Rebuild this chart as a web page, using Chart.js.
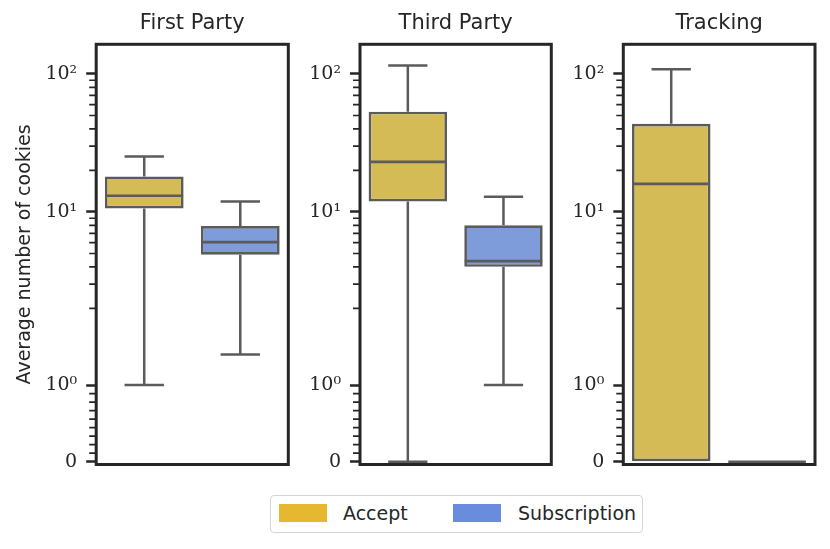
<!DOCTYPE html>
<html>
<head>
<meta charset="utf-8">
<script src="https://cdn.jsdelivr.net/npm/chart.js@4.4.0/dist/chart.umd.min.js"></script>
<style>
    body { margin: 0; background: #fff; width: 830px; height: 549px; position: relative; overflow: hidden; }
    .panel { position: absolute; top: 0; }
    #legend {
        position: absolute; left: 270px; top: 495px; width: 371px; height: 36px;
        border: 1.3px solid #d4d4d4; border-radius: 4px; background: #fff;
        font-family: 'DejaVu Sans', sans-serif; font-size: 19px; color: #262626;
    }
    #legend .sw { position: absolute; top: 8px; width: 48px; height: 18px; }
    #legend .tx { position: absolute; top: 5px; line-height: 24px; }
</style>
</head>
<body>
<div class="panel" style="left:0px"><canvas id="p0" width="300" height="549"></canvas></div>
<div class="panel" style="left:300px"><canvas id="p1" width="264" height="549"></canvas></div>
<div class="panel" style="left:563px"><canvas id="p2" width="267" height="549"></canvas></div>
<div id="legend">
    <div class="sw" style="left:8px;background:#e6b730"></div>
    <div class="tx" style="left:72px">Accept</div>
    <div class="sw" style="left:182px;background:#6a8cdd"></div>
    <div class="tx" style="left:247px">Subscription</div>
</div>
<script>
// panels and groups
const categories = ['First Party', 'Third Party', 'Tracking'];
const groups = ['Accept', 'Subscription'];

// box stats (cookies per site)
const acceptLow  = [1.0, 0, 0];
const acceptQ1   = [10.6, 11.9, 0];
const acceptMed  = [13.1, 23.1, 16.0];
const acceptQ3   = [18.1, 53.3, 43.5];
const acceptHigh = [25.2, 115, 108];

const subLow  = [1.4, 1.0, 0];
const subQ1   = [4.9, 4.0, 0];
const subMed  = [6.05, 4.4, 0];
const subQ3   = [7.9, 8.0, 0];
const subHigh = [11.9, 12.9, 0];

// y axis ticks
const majorTicks = [0, 1, 10, 100];
const majorLabels = ['0', '10\u2070', '10\u00b9', '10\u00b2'];
const minorTicks = [1/9, 2/9, 3/9, 4/9, 5/9, 6/9, 7/9, 8/9,
                    2, 3, 4, 5, 6, 7, 8, 9,
                    20, 30, 40, 50, 60, 70, 80, 90];

const boxFill = { Accept: '#d5bb55', Subscription: '#7e9bda' };
const lineGray = '#5b5b5b';
const dark = '#262626';

// symlog, linthresh 2, linscale 1 (matplotlib style)
const LINTHRESH = 2;
const LINSCALE_ADJ = 1 / (1 - 0.1);
function symlog(v) {
    if (v <= LINTHRESH) return v * LINSCALE_ADJ;
    return LINTHRESH * (LINSCALE_ADJ + Math.log10(v / LINTHRESH));
}

// -----------------------------
// whiskers + medians
// -----------------------------
const boxPlugin = {
    id: 'boxWhiskers',
    afterDatasetsDraw(chart) {
        const ctx = chart.ctx;
        const y = chart.scales.y;
        ctx.save();
        ctx.strokeStyle = lineGray;
        ctx.lineCap = 'butt';
        chart.data.datasets.forEach((ds, i) => {
            const bar = chart.getDatasetMeta(i).data[0];
            const {x, width} = bar.getProps(['x', 'width'], true);
            const s = ds.stats;
            const cap = width / 4;
            ctx.lineWidth = 2.5;
            ctx.beginPath();
            if (s.high > s.q3) {
                ctx.moveTo(x, y.getPixelForValue(symlog(s.q3)));
                ctx.lineTo(x, y.getPixelForValue(symlog(s.high)));
                ctx.moveTo(x - cap, y.getPixelForValue(symlog(s.high)));
                ctx.lineTo(x + cap, y.getPixelForValue(symlog(s.high)));
            }
            if (s.low < s.q1) {
                ctx.moveTo(x, y.getPixelForValue(symlog(s.q1)));
                ctx.lineTo(x, y.getPixelForValue(symlog(s.low)));
                ctx.moveTo(x - cap, y.getPixelForValue(symlog(s.low)));
                ctx.lineTo(x + cap, y.getPixelForValue(symlog(s.low)));
            }
            ctx.stroke();
            ctx.lineWidth = 2.7;
            ctx.beginPath();
            const ym = y.getPixelForValue(symlog(s.med));
            ctx.moveTo(x - width / 2 + 0.5, ym);
            ctx.lineTo(x + width / 2 - 0.5, ym);
            ctx.stroke();
        });
        ctx.restore();
    }
};

// -----------------------------
// frame + minor ticks
// -----------------------------
const framePlugin = {
    id: 'frame',
    afterDraw(chart) {
        const ctx = chart.ctx;
        const a = chart.chartArea;
        const y = chart.scales.y;
        ctx.save();
        ctx.strokeStyle = dark;
        ctx.lineWidth = 1.7;
        ctx.beginPath();
        minorTicks.forEach(v => {
            const py = y.getPixelForValue(symlog(v));
            ctx.moveTo(a.left - 7, py);
            ctx.lineTo(a.left, py);
        });
        ctx.stroke();
        ctx.lineWidth = 3;
        ctx.strokeRect(a.left, a.top, a.right - a.left, a.bottom - a.top);
        ctx.restore();
    }
};

const panelLayout = [
    {axisW: 96.2, padRight: 11.7},
    {axisW: 60, padRight: 12.7},
    {axisW: 60.3, padRight: 15}
];

categories.forEach((cat, p) => {
    const datasets = [
        {
            label: groups[0],
            data: [[symlog(acceptQ1[p]), symlog(acceptQ3[p])]],
            stats: {low: acceptLow[p], q1: acceptQ1[p], med: acceptMed[p], q3: acceptQ3[p], high: acceptHigh[p]},
            backgroundColor: boxFill.Accept
        },
        {
            label: groups[1],
            data: [[symlog(subQ1[p]), symlog(subQ3[p])]],
            stats: {low: subLow[p], q1: subQ1[p], med: subMed[p], q3: subQ3[p], high: subHigh[p]},
            backgroundColor: boxFill.Subscription
        }
    ].map(ds => Object.assign(ds, {
        borderColor: lineGray,
        borderWidth: 2.7,
        borderSkipped: false,
        barPercentage: 0.82,
        categoryPercentage: 1
    }));

    new Chart(document.getElementById('p' + p), {
        type: 'bar',
        data: {labels: [cat], datasets: datasets},
        options: {
            responsive: false,
            animation: false,
            layout: {padding: {left: 0, right: panelLayout[p].padRight, top: 0, bottom: 84.5}},
            plugins: {
                legend: {display: false},
                tooltip: {enabled: false},
                title: {
                    display: true,
                    fullSize: false,
                    align: 'center',
                    text: cat,
                    color: dark,
                    font: {family: 'DejaVu Sans', size: 21, weight: 'normal'},
                    padding: {top: 11, bottom: 8.1}
                }
            },
            scales: {
                x: {display: false},
                y: {
                    min: -0.04,
                    max: 6.05,
                    afterBuildTicks: scale => {
                        scale.ticks = majorTicks.map(v => ({value: symlog(v)}));
                    },
                    afterFit: scale => { scale.width = panelLayout[p].axisW; },
                    ticks: {
                        autoSkip: false,
                        padding: 9,
                        color: dark,
                        font: {family: 'DejaVu Serif', size: 19},
                        callback: (value, index) => majorLabels[index]
                    },
                    grid: {
                        drawOnChartArea: false,
                        tickLength: 10,
                        tickWidth: 2.5,
                        tickColor: dark
                    },
                    border: {display: false},
                    title: {
                        display: p === 0,
                        text: 'Average number of cookies',
                        color: dark,
                        font: {family: 'DejaVu Sans', size: 19},
                        padding: {top: 14, bottom: 0}
                    }
                }
            }
        },
        plugins: [boxPlugin, framePlugin]
    });
});
</script>
</body>
</html>
